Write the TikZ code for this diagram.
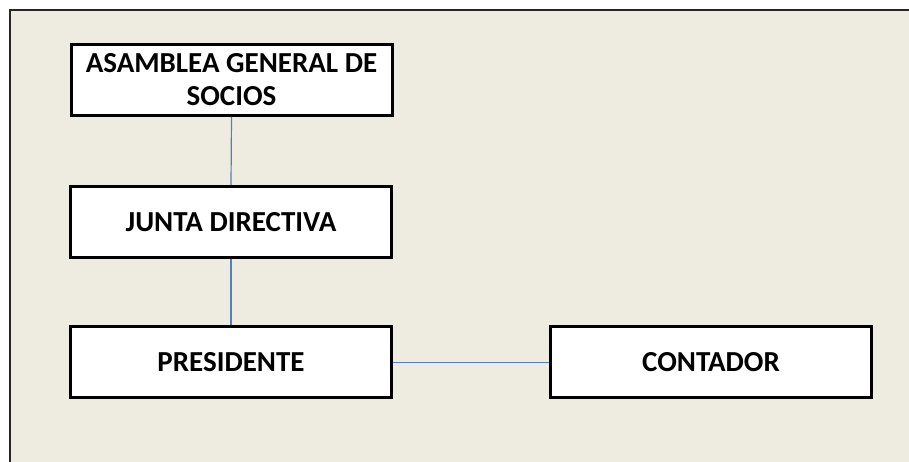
\documentclass[tikz,border=0pt]{standalone}
\usepackage{fontspec}
\setmainfont{Carlito}
\definecolor{bgtan}{HTML}{EEECE1}
\definecolor{linkblue}{HTML}{4F81BD}
\begin{document}
\begin{tikzpicture}[x=1pt,y=1pt,
  orgbox/.style={draw=black, line width=3pt, fill=white, minimum width=321pt, minimum height=71pt,
    inner sep=0pt, align=center, font=\fontsize{29}{33}\selectfont\bfseries},
  link/.style={draw=linkblue, line width=1.2pt}]
\useasboundingbox (0,0) rectangle (909,462);
\fill[white] (0,0) rectangle (909,462);
\fill[bgtan] (10,0) rectangle (909,452);
\draw[line width=2pt, black!85] (10,0) -- (10,452) -- (909,452);
\node[orgbox] (asam) at (231.5,382) {ASAMBLEA GENERAL DE\\SOCIOS};
\node[orgbox] (junta) at (231,240) {JUNTA DIRECTIVA};
\node[orgbox] (pres) at (231,99.5) {\raisebox{-2pt}{PRESIDENTE}};
\node[orgbox] (cont) at (711,99.5) {\raisebox{-2pt}{CONTADOR}};
\draw[link] (asam.south) -- (junta.north);
\draw[link] (junta.south) -- (pres.north);
\draw[link] (pres.east) -- (cont.west);
\end{tikzpicture}
\end{document}
